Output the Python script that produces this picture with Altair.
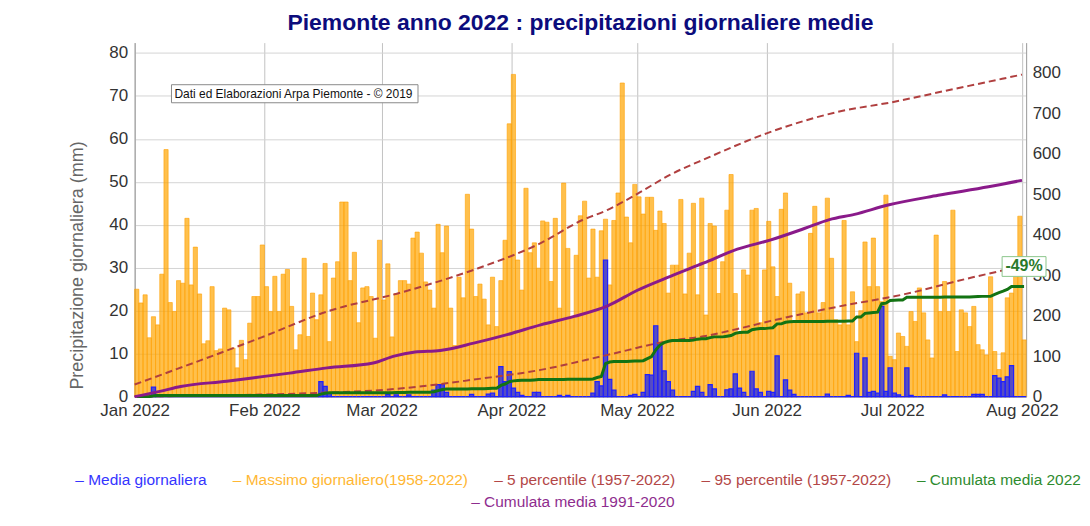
import altair as alt
import pandas as pd

YEAR_START = pd.Timestamp("2022-01-01")

# Massimo giornaliero (1958-2022), mm, one value per day from 1 Jan to 1 Aug 2022
daily_max = [
    25, 21.8, 23.7, 13.7, 18.6, 16.7, 28.5, 57.5, 21.9, 19.8,
    27, 26.4, 41.5, 26, 34.8, 23.9, 12.3, 13, 25.6, 10.7,
    11.1, 20.6, 20.2, 11.3, 6.7, 13.1, 8.6, 17.1, 23.3, 23.3,
    35.3, 25.6, 19.8, 28, 19.8, 28.5, 29.6, 21, 10.9, 14.4,
    32.2, 14, 24.1, 17.9, 23.7, 31, 12.8, 27.6, 31.4, 45.3,
    45.3, 27, 33.6, 17.2, 25.3, 25.6, 23.3, 13.6, 36.4, 22.5,
    30.9, 13.9, 24, 27, 27, 26.2, 36.9, 38.3, 33.4, 26.7,
    24.8, 20.6, 40.1, 33.5, 39.7, 20.6, 11.9, 27.8, 23, 47.1,
    39, 23.3, 26.2, 22.7, 16.7, 27.8, 16.3, 27, 36.4, 63.5,
    75, 31.8, 24.8, 48.5, 33.5, 35.8, 29.9, 40.9, 40.6, 26.8,
    41.5, 20.6, 49.7, 34.5, 18.6, 32.9, 42.1, 45.5, 27.6, 39,
    27.8, 38.6, 41.3, 26, 41, 47.4, 73, 41.8, 35.8, 49.4,
    46.5, 42.5, 46.4, 46.4, 38.7, 43.2, 40.3, 24.1, 30.6, 30.6,
    45.9, 23.9, 33.4, 45, 23.7, 46.2, 19, 40.3, 39.7, 24,
    31.4, 43.4, 51.7, 24, 14.8, 29.5, 28.3, 43.4, 43.8, 17.2,
    29.5, 40.8, 30.2, 23.3, 43.6, 47.4, 26.4, 17.5, 23.9, 24.4,
    19.5, 38, 44.3, 19.5, 21.9, 46.2, 32.2, 17.9, 16.7, 41,
    16.7, 24.4, 12.8, 20, 36, 25.6, 36.9, 25.6, 22.1, 46.9,
    9.4, 8.6, 14.8, 14, 11.7, 19.8, 17.5, 25.3, 19.5, 13.2,
    9, 37.6, 19.8, 26.8, 19.8, 43.4, 10.5, 20.2, 19.5, 16.3,
    21, 12.1, 10.9, 9.7, 27.9, 10.5, 6.3, 10.2, 23, 24.1,
    29.5, 42, 13.2,
]

# Media giornaliera 2022 (mm): day index -> value, all other days 0
daily_mean_nonzero = {
    4: 2.2, 5: 0.4, 44: 3.5, 45: 2.4, 46: 0.8, 60: 0.5, 62: 0.4, 65: 0.4,
    71: 1.5, 72: 2.8, 73: 2.8, 74: 1.0, 80: 0.5, 84: 0.6, 85: 0.8,
    87: 7.0, 88: 3.5, 89: 5.8, 90: 2.0, 91: 1.0, 92: 0.3, 95: 1.0, 96: 1.0,
    101: 0.3, 103: 0.3, 109: 0.8, 110: 3.5, 111: 2.5, 112: 31.8, 113: 4.0,
    114: 1.5, 118: 0.3, 119: 0.5, 121: 1.0, 122: 5.1, 123: 5.0, 124: 16.5,
    125: 12.0, 126: 6.0, 127: 3.5, 128: 1.5, 133: 1.2, 134: 2.4, 135: 1.0,
    137: 2.8, 138: 1.8, 141: 1.6, 142: 1.8, 143: 5.3, 144: 2.0, 145: 1.0,
    147: 5.9, 148: 1.8, 149: 1.0, 151: 1.2, 152: 1.0, 153: 9.5, 155: 3.9,
    156: 1.5, 157: 0.5, 165: 0.6, 170: 0.3, 172: 10.1, 174: 9.0, 175: 1.0,
    176: 1.2, 177: 0.8, 178: 21.0, 179: 1.2, 180: 6.7, 181: 0.8, 182: 0.4,
    184: 6.7, 185: 0.3, 193: 0.4, 200: 0.5, 201: 0.5, 202: 0.5, 205: 4.9,
    206: 4.3, 207: 3.5, 208: 4.6, 209: 7.2,
}

# Cumulative curves (right axis, mm), read at sample days
p95_days = [0, 14, 30, 46, 64, 81, 97, 107, 113, 120, 128, 137, 151, 168, 181, 196, 212]
p95_vals = [30, 83, 145, 210, 258, 313, 379, 436, 461, 500, 548, 590, 650, 703, 727, 760, 795]
p5_days = [0, 14, 30, 46, 60, 70, 81, 97, 113, 128, 136, 144, 152, 160, 168, 184, 200, 212]
p5_vals = [0, 2, 5, 10, 17, 27, 42, 66, 103, 138, 149, 167, 187, 205, 222, 253, 294, 322]
clim_days = [0, 6, 11, 22, 31, 37, 46, 57, 62, 67, 73, 81, 89, 97, 105, 113, 120, 128,
             136, 144, 152, 160, 166, 172, 180, 192, 204, 212]
clim_vals = [0, 13, 25, 38, 50, 58, 71, 83, 100, 110, 114, 132, 153, 177, 198, 224, 262, 297,
             330, 364, 387, 415, 437, 450, 473, 497, 518, 534]

series_names = ["Media giornaliera", "Massimo giornaliero(1958-2022)",
                "5 percentile (1957-2022)", "95 percentile (1957-2022)", "Cumulata media 2022"]
series_colors = ["#3838d8", "#ffa500", "#b03f3f", "#b03f3f", "#137313"]
label_colors = ["#3535ff", "#ffb733", "#b34747", "#b34747", "#2e8b2e"]
clim_name = "Cumulata media 1991-2020"
clim_color = "#8a1a8a"

TITLE = "Piemonte anno 2022 : precipitazioni giornaliere medie"
Y_LEFT_TITLE = "Precipitazione giornaliera (mm)"
NOTE_TEXT = "Dati ed Elaborazioni Arpa Piemonte - © 2019"
ANOMALY_TEXT = "-49%"

# annotation anchors (day offsets / left-axis values)
NOTE_BOX_DAYS = (8.8, 67.7)
NOTE_BOX_VALS = (68.4, 72.6)
NOTE_TEXT_DAY = 9.5
NOTE_TEXT_VAL = 70.5

n = len(daily_max)
day = pd.Timedelta(days=1)
dates = [YEAR_START + i * day for i in range(n)]
df = pd.DataFrame({
    "idx": list(range(n)),
    "start": dates,
    "end": [d + day for d in dates],
    "mid": [d + day / 2 for d in dates],
    "max": daily_max,
    "mean": [daily_mean_nonzero.get(i, 0.0) for i in range(n)],
})
df["s_max"] = series_names[1]
df["s_mean"] = series_names[0]

def curve(days, vals, name):
    return pd.DataFrame({"date": [YEAR_START + d * day for d in days], "v": vals, "series": name})

p5_df = curve(p5_days, p5_vals, series_names[2])
p95_df = curve(p95_days, p95_vals, series_names[3])
clim_df = curve(clim_days, clim_vals, clim_name)

note_df = pd.DataFrame({
    "x0": [YEAR_START + NOTE_BOX_DAYS[0] * day], "x1": [YEAR_START + NOTE_BOX_DAYS[1] * day],
    "y0": [NOTE_BOX_VALS[0]], "y1": [NOTE_BOX_VALS[1]],
    "tx": [YEAR_START + NOTE_TEXT_DAY * day], "ty": [NOTE_TEXT_VAL], "text": [NOTE_TEXT],
})

FONT = "Liberation Sans"
x_scale = alt.Scale(domain=[alt.DateTime(year=2022, month=1, date=1),
                            alt.DateTime(year=2022, month=8, date=2)])
x_axis = alt.Axis(values=[alt.DateTime(year=2022, month=m, date=1) for m in range(1, 9)],
                  format="%b %Y", labelFlush=False, ticks=False, labelPadding=6,
                  labelFontSize=17, labelColor="#333333", gridColor="#c2c2c2",
                  domainColor="#999999", title=None)
left_scale = alt.Scale(domain=[0, 82.4], nice=False)
right_scale = alt.Scale(domain=[0, 874], nice=False)
left_axis = alt.Axis(values=list(range(0, 81, 10)), title=Y_LEFT_TITLE, titleFontSize=18,
                     titleColor="#666666", titleFontWeight="normal", titlePadding=22,
                     titleY=223,
                     labelFontSize=17, labelColor="#333333", ticks=False, labelPadding=7,
                     domainColor="#999999", gridColor="#d4d4d4")
right_axis = alt.Axis(orient="right", values=list(range(0, 801, 100)), title=None,
                      labelFontSize=17, labelColor="#333333", ticks=False, labelPadding=6,
                      domainColor="#999999", gridColor="#d4d4d4")

color_expr = " : ".join(
    f"datum.value == '{nm}' ? '{c}'" for nm, c in zip(series_names, label_colors)
) + " : '#333333'"
legend_main = alt.Legend(title=None, orient="none", legendX=-75, legendY=431,
                         direction="horizontal", columns=5, symbolOpacity=0, symbolSize=1,
                         labelOffset=0, labelFontSize=15.5, labelFont=FONT, columnPadding=10,
                         labelLimit=0, labelExpr="'– ' + datum.label",
                         labelColor={"expr": color_expr})
legend_clim = alt.Legend(title=None, orient="none", legendX=322, legendY=453,
                         symbolOpacity=0, symbolSize=1, labelOffset=0, labelFontSize=15.5,
                         labelFont=FONT, labelLimit=0, labelExpr="'– ' + datum.label",
                         labelColor="#8e2d8e")
color_scale = alt.Scale(domain=series_names, range=series_colors)

def col(field):
    return alt.Color(field, type="nominal", scale=color_scale, legend=legend_main)

base = alt.Chart(df)
orange = base.mark_bar(fillOpacity=0.7, stroke="#ffa000", strokeWidth=0.8, strokeOpacity=0.75).encode(
    x=alt.X("start:T", scale=x_scale, axis=x_axis), x2="end:T",
    y=alt.Y("max:Q", scale=left_scale, axis=left_axis), y2=alt.datum(0),
    color=col("s_max"),
)
blue = base.mark_bar(fillOpacity=0.85, stroke="#2020ff", strokeWidth=1.2).encode(
    x=alt.X("start:T", scale=x_scale, axis=x_axis), x2="end:T",
    y=alt.Y("mean:Q", scale=left_scale, axis=left_axis), y2=alt.datum(0),
    color=col("s_mean"),
)
note_box = alt.Chart(note_df).mark_rect(fill="white", stroke="#8a8a8a", strokeWidth=1).encode(
    x=alt.X("x0:T", scale=x_scale, axis=x_axis), x2="x1:T",
    y=alt.Y("y0:Q", scale=left_scale, axis=left_axis), y2="y1:Q",
)
note_txt = alt.Chart(note_df).mark_text(align="left", baseline="middle", fontSize=12,
                                        color="#111111", font=FONT).encode(
    x=alt.X("tx:T", scale=x_scale, axis=x_axis),
    y=alt.Y("ty:Q", scale=left_scale, axis=left_axis),
    text="text:N",
)
left_group = alt.layer(orange, blue, note_box, note_txt)

def pct_line(d):
    return alt.Chart(d).mark_line(strokeWidth=2, strokeDash=[7, 4], interpolate="monotone").encode(
        x=alt.X("date:T", scale=x_scale, axis=x_axis),
        y=alt.Y("v:Q", scale=right_scale, axis=right_axis),
        color=col("series"),
    )

cum_base = base.transform_window(cum="sum(mean)", sort=[alt.SortField("idx")], frame=[None, 0])
green = cum_base.transform_calculate(series=f"'{series_names[4]}'").mark_line(strokeWidth=3).encode(
    x=alt.X("mid:T", scale=x_scale, axis=x_axis),
    y=alt.Y("cum:Q", scale=right_scale, axis=right_axis),
    color=col("series"),
)
purple = alt.Chart(clim_df).mark_line(strokeWidth=3, interpolate="monotone").encode(
    x=alt.X("date:T", scale=x_scale, axis=x_axis),
    y=alt.Y("v:Q", scale=right_scale, axis=right_axis),
    stroke=alt.Stroke("series:N", scale=alt.Scale(domain=[clim_name], range=[clim_color]),
                      legend=legend_clim),
)
last = cum_base.transform_filter(f"datum.idx == {n - 1}")
label_box = last.mark_point(shape="M-1,-0.45L1,-0.45L1,0.45L-1,0.45Z", size=1936, filled=True,
                            fill="white", stroke="#8cc68c", strokeWidth=1, opacity=1,
                            yOffset=-20).encode(
    x=alt.X("mid:T", scale=x_scale, axis=x_axis),
    y=alt.Y("cum:Q", scale=right_scale, axis=right_axis),
)
label_txt = last.mark_text(text=ANOMALY_TEXT, dy=-20, fontSize=16, fontWeight="bold",
                           color="#2a7a2a", font=FONT).encode(
    x=alt.X("mid:T", scale=x_scale, axis=x_axis),
    y=alt.Y("cum:Q", scale=right_scale, axis=right_axis),
)
right_group = alt.layer(pct_line(p5_df), pct_line(p95_df), green, purple, label_box, label_txt)

chart = alt.layer(left_group, right_group).resolve_scale(y="independent").properties(
    width=894, height=355,
    title=alt.TitleParams(TITLE, fontSize=23, fontWeight="bold", color="#0c0c7c",
                          anchor="middle", offset=8, font=FONT),
    padding={"left": 52, "top": 3, "right": 0, "bottom": 2},
).configure(font=FONT).configure_view(strokeWidth=0)

chart.save("out.html", embed_options={"renderer": "svg", "actions": False})
